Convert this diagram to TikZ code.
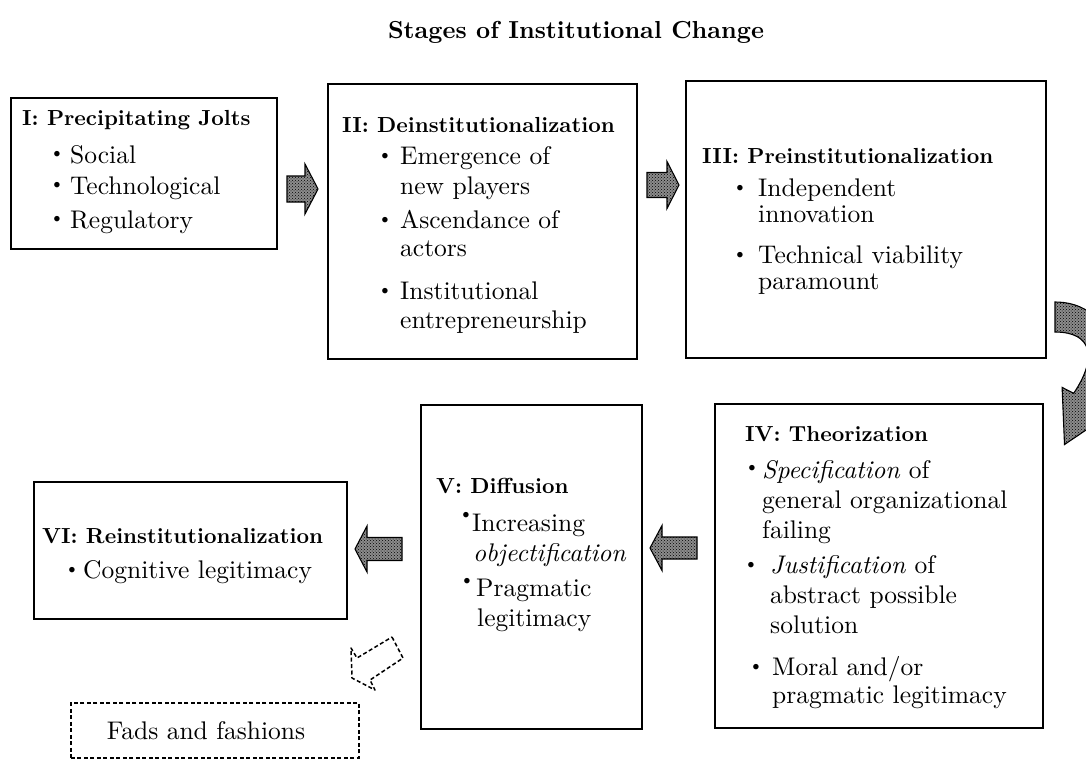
\documentclass[tikz,border=0pt]{standalone}
\usepackage{fontspec}
\setmainfont{lmroman10-regular.otf}[BoldFont=lmroman10-bold.otf, ItalicFont=lmroman10-italic.otf, BoldItalicFont=lmroman10-bolditalic.otf]
\usetikzlibrary{patterns}
\tikzset{
  box/.style={draw=black, line width=1.7pt, inner sep=0pt, anchor=north west},
  txt/.style={inner sep=0pt, anchor=base west, font=\fontsize{25.5}{30}\selectfont},
  hd/.style={inner sep=0pt, anchor=base west, font=\fontsize{21.8}{26}\selectfont\bfseries},
  bul/.style={inner sep=0pt, anchor=center, font=\fontsize{19}{19}\selectfont},
  hatch/.style={draw=black, line width=1.1pt, fill=black!45, postaction={pattern=crosshatch dots, pattern color=black}},
  dashbox/.style={draw=black, line width=1.5pt, dash pattern=on 4pt off 2.5pt, inner sep=0pt, anchor=north west},
  dasharrow/.style={draw=black, line width=1.5pt, dash pattern=on 4pt off 2.5pt, line join=round}
}
\newcommand\blockarr[6]{% tail x, head base x, tip x, centre y, body half, head half
  \path[hatch] (#1,#4-#5) -- (#2,#4-#5) -- (#2,#4-#6) -- (#3,#4) -- (#2,#4+#6) -- (#2,#4+#5) -- (#1,#4+#5) -- cycle;}
\begin{document}
\begin{tikzpicture}[x=1pt,y=-1pt]
\useasboundingbox (0,0) rectangle (1086,758);
\clip (0,0) rectangle (1086,758);
\fill[white] (0,0) rectangle (1086,758);

% title
\node[inner sep=0pt, font=\fontsize{24.6}{30}\selectfont\bfseries] (title) at (576,32) {Stages of Institutional Change};

% boxes
\node[box, minimum width=266pt, minimum height=151pt] (b1) at (10,97) {};
\node[box, minimum width=309pt, minimum height=275pt] (b2) at (327,83) {};
\node[box, minimum width=360pt, minimum height=277pt] (b3) at (685,80) {};
\node[box, minimum width=328pt, minimum height=324pt] (b4) at (714,403) {};
\node[box, minimum width=221pt, minimum height=324pt] (b5) at (420,404) {};
\node[box, minimum width=313pt, minimum height=137pt] (b6) at (33,481) {};
\node[dashbox, minimum width=288pt, minimum height=55pt] (fads) at (70,702) {};
\node[txt, anchor=center] (fadst) at (206,731) {Fads and fashions};

% I
\node[hd] (t1) at (22,125) {I: Precipitating Jolts};
\node[bul] (t1a) at (57,155) {\textbullet};
\node[txt] (t1b) at (70,163) {Social};
\node[bul] (t1c) at (57,186) {\textbullet};
\node[txt] (t1d) at (70,194) {Technological};
\node[bul] (t1e) at (57,220) {\textbullet};
\node[txt] (t1f) at (70,228) {Regulatory};

% II
\node[hd] (t2) at (342,132) {II: Deinstitutionalization};
\node[bul] (t2a) at (385,157) {\textbullet};
\node[txt] (t2b) at (400,164) {Emergence of};
\node[txt] (t2c) at (400,194) {new players};
\node[bul] (t2d) at (385,221) {\textbullet};
\node[txt] (t2e) at (400,228) {Ascendance of};
\node[txt] (t2f) at (400,256) {actors};
\node[bul] (t2g) at (385,292) {\textbullet};
\node[txt] (t2h) at (400,299) {Institutional};
\node[txt] (t2i) at (400,328) {entrepreneurship};

% III
\node[hd] (t3) at (702,163) {III: Preinstitutionalization};
\node[bul] (t3a) at (740,189) {\textbullet};
\node[txt] (t3b) at (758,196) {Independent};
\node[txt] (t3c) at (758,222) {innovation};
\node[bul] (t3d) at (740,256) {\textbullet};
\node[txt] (t3e) at (758,263) {Technical viability};
\node[txt] (t3f) at (758,289) {paramount};

% IV
\node[hd] (t4) at (745,441) {IV: Theorization};
\node[bul] (t4a) at (752,469) {\textbullet};
\node[txt] (t4b) at (762,478) {\textit{Specification} of};
\node[txt] (t4c) at (762,508) {general organizational};
\node[txt] (t4d) at (762,538) {failing};
\node[bul] (t4e) at (751,566) {\textbullet};
\node[txt] (t4f) at (770,573) {\textit{Justification} of};
\node[txt] (t4g) at (770,603) {abstract possible};
\node[txt] (t4h) at (770,633) {solution};
\node[bul] (t4i) at (756,668) {\textbullet};
\node[txt] (t4j) at (772,675) {Moral and/or};
\node[txt] (t4k) at (772,703) {pragmatic legitimacy};

% V
\node[hd] (t5) at (436,493) {V: Diffusion};
\node[bul] (t5a) at (466,516) {\textbullet};
\node[txt] (t5b) at (472,531) {Increasing};
\node[txt] (t5c) at (473,561) {\textit{objectification}};
\node[bul] (t5d) at (467,582) {\textbullet};
\node[txt] (t5e) at (476,596) {Pragmatic};
\node[txt] (t5f) at (477,626) {legitimacy};

% VI
\node[hd] (t6) at (42,543) {VI: Reinstitutionalization};
\node[bul] (t6a) at (72,571) {\textbullet};
\node[txt] (t6b) at (83,578) {Cognitive legitimacy};

% block arrows
\blockarr{287}{305}{318}{189}{13}{25}
\blockarr{647}{667}{679}{185}{12.5}{23.5}
\blockarr{697}{662}{650}{548}{11}{22.5}
\blockarr{402}{367}{355}{549}{11.5}{23}

% curved arrow III -> IV
\path[hatch] (1055,302) .. controls (1105,302) and (1128,352) .. (1100.4,406.8)
  -- (1111.9,412.6) -- (1064.5,444.5) -- (1062.1,387.4) -- (1073.7,393.3)
  .. controls (1098,357) and (1092,332) .. (1055,332) -- cycle;

% dashed arrow V -> fads
\path[dasharrow] (392,637) -- (403,658) -- (370,680) -- (375,690) -- (352,678) -- (351,648) -- (357,658) -- cycle;
\end{tikzpicture}
\end{document}
